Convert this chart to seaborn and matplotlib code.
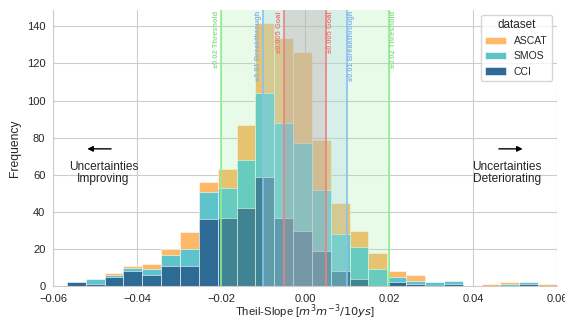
import numpy as np
import pandas as pd
import matplotlib
matplotlib.use("Agg")
import matplotlib.pyplot as plt
import seaborn as sns

# histogram bins
BIN_LO, BIN_HI, N_BINS = -0.0567, 0.0600, 26

# counts per bin, left to right
ascat = [0, 0, 7, 11, 12, 20, 29, 56, 63, 87, 142, 134, 126, 79, 45, 30, 18, 8, 6, 0, 0, 0, 1, 2, 0, 1]
smos = [0, 4, 6, 10, 9, 17, 20, 51, 53, 68, 104, 88, 77, 52, 28, 21, 9, 5, 3, 2, 3, 0, 0, 1, 2, 0]
cci = [2, 1, 5, 8, 6, 11, 11, 36, 37, 42, 59, 37, 30, 19, 8, 4, 0, 2, 1, 0, 1, 0, 0, 0, 1, 0]

datasets = ["ASCAT", "SMOS", "CCI"]
colors = {"ASCAT": "#fdb967", "SMOS": "#5ec3cb", "CCI": "#2d6a94"}

edges = np.linspace(BIN_LO, BIN_HI, N_BINS + 1)
centers = (edges[:-1] + edges[1:]) / 2
df = pd.DataFrame({
    "slope": np.tile(centers, 3),
    "count": ascat + smos + cci,
    "dataset": np.repeat(datasets, N_BINS),
})

sns.set_style("whitegrid")
plt.rcParams["font.family"] = ["Liberation Sans", "DejaVu Sans"]

fig = plt.figure(figsize=(5.65, 3.21), dpi=100)
ax = fig.add_axes([0.0938, 0.1085, 0.8920, 0.8619])

for name in datasets:
    sub = df[df["dataset"] == name]
    sns.histplot(data=sub, x="slope", weights="count", bins=N_BINS, binrange=(BIN_LO, BIN_HI),
                 color=colors[name], alpha=1, edgecolor="white", linewidth=0.4, label=name, ax=ax)

# thresholds
ax.axvspan(-0.02, 0.02, color="lightgreen", alpha=0.2, lw=0)
ax.axvspan(-0.01, 0.01, color="lightblue", alpha=0.3, lw=0)
ax.axvspan(-0.005, 0.005, color="#c48a96", alpha=0.22, lw=0)
lines = [(0.02, "lightgreen", "#8ede8e", "±0.02 Threshold"),
         (0.01, "#8cc0f0", "#80b4ee", "±0.01 Breakthrough"),
         (0.005, "lightcoral", "#f07878", "±0.005 Goal")]
for v, c, tc, txt in lines:
    for s in (-1, 1):
        ax.axvline(s * v, color=c, lw=1.2)
        ax.text(s * v + s * 0.0003, 0.995, txt, rotation=90, color=tc, fontsize=5.4,
                fontweight="bold", ha="left" if s > 0 else "right", va="top",
                transform=ax.get_xaxis_transform())

ax.annotate("", xy=(-0.0525, 74), xytext=(-0.0455, 74),
            arrowprops=dict(arrowstyle="-|>", color="black", lw=1, mutation_scale=8))
ax.text(-0.048, 61, "Uncertainties\nImproving", ha="center", va="center", fontsize=8.6, linespacing=1.0)
ax.annotate("", xy=(0.0525, 74), xytext=(0.0455, 74),
            arrowprops=dict(arrowstyle="-|>", color="black", lw=1, mutation_scale=8))
ax.text(0.048, 61, "Uncertainties\nDeteriorating", ha="center", va="center", fontsize=8.6, linespacing=1.0)

ax.set_xlim(-0.06, 0.06)
ax.set_xticks(np.arange(-0.06, 0.061, 0.02))
ax.tick_params(labelsize=8, pad=2)
ax.set_xlabel("Theil-Slope [$m^3m^{-3}/10ys$]", fontsize=8.2, labelpad=-1)
ax.set_ylabel("Frequency", fontsize=8.7, labelpad=4)
sns.despine(ax=ax)
ax.legend(title="dataset", loc="upper right", fontsize=7.5, title_fontsize=8.5)

fig.savefig("out.png", dpi=100)
